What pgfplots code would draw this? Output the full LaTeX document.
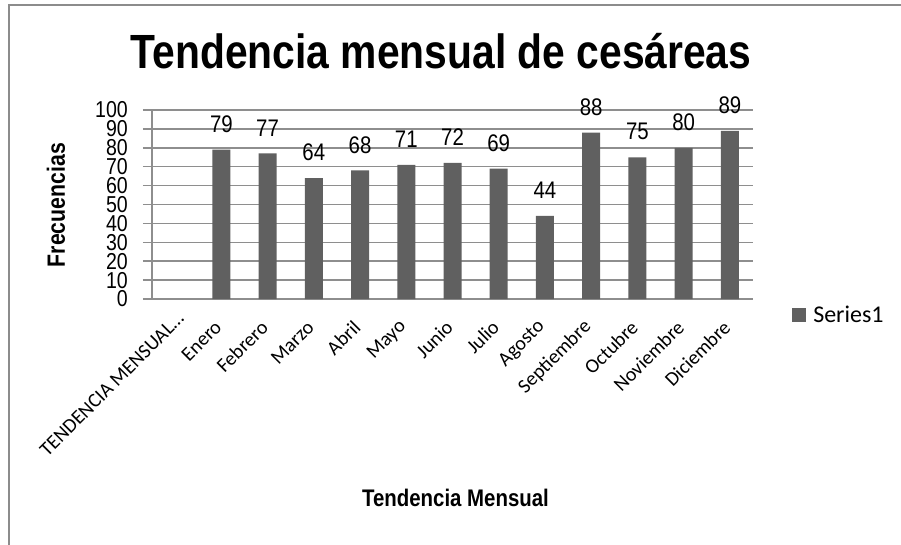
\documentclass[border=0pt]{standalone}
\usepackage{fontspec}
\usepackage{pgfplots}
\pgfplotsset{compat=1.18}
\setmainfont{Carlito}
\newfontfamily\nb[FakeStretch=0.85]{Liberation Sans}
\definecolor{barc}{HTML}{606060}
\definecolor{gridc}{HTML}{8E8E8E}
\definecolor{bordc}{HTML}{8C8C8C}
\begin{document}
\begin{tikzpicture}[x=1pt,y=1pt]
\useasboundingbox (0,0) rectangle (901,544);
\draw[bordc, line width=2pt] (9,-5) -- (9,539) -- (906,539);
\begin{axis}[
  at={(152pt,245pt)}, anchor=south west,
  scale only axis, width=601pt, height=189pt,
  xmin=-0.5, xmax=12.5, ymin=0, ymax=100,
  axis x line*=bottom, axis y line*=left,
  axis line style={gridc, line width=1.5pt, -},
  xtick={0,1,2,3,4,5,6,7,8,9,10,11,12},
  xticklabels={{TENDENCIA MENSUAL\ldots\hspace*{-12pt}},Enero,Febrero,Marzo,Abril,Mayo,Junio,Julio,Agosto,Septiembre,Octubre,Noviembre,Diciembre},
  xtick style={draw=none},
  xticklabel style={font=\fontsize{20}{20}\selectfont, inner sep=0pt, yshift=-16pt, xshift=-3pt, rotate=45, anchor=east},
  ytick={0,10,20,30,40,50,60,70,80,90,100},
  ytick style={gridc, line width=1.5pt},
  tick align=outside, major tick length=9pt,
  yticklabel style={font=\nb\fontsize{23}{23}\selectfont, inner sep=0pt, xshift=-15pt},
  /pgf/number format/assume math mode=true,
  ymajorgrids, grid style={gridc, line width=1.5pt},
  title={Tendencia mensual de cesáreas},
  title style={font=\nb\bfseries\fontsize{48}{48}\selectfont, at={(0.481,1.19)}, anchor=base, inner sep=0pt, yshift=0pt},
  ylabel={Frecuencias},
  ylabel style={font=\nb\bfseries\fontsize{25}{25}\selectfont, at={(-0.16,0.497)}, anchor=center, inner sep=0pt},
  xlabel={Tendencia Mensual},
  xlabel style={font=\nb\bfseries\fontsize{24}{24}\selectfont, at={(0.505,-1.10)}, anchor=base, inner sep=0pt},
  legend style={at={(1.065,-0.085)}, anchor=west, draw=none, fill=none, inner sep=0pt,
    font=\fontsize{24}{24}\selectfont,
    /tikz/every even column/.append style={column sep=0pt}},
  clip=false,
]
\addplot[ybar, bar width=18pt, fill=barc, draw=none,
  nodes near coords,
  every node near coord/.append style={font=\nb\fontsize{24}{24}\selectfont, black, anchor=south, inner sep=0pt, yshift=17pt},
  legend image code/.code={\fill[barc] (0pt,-7pt) rectangle (14pt,7pt); \path (19pt,0pt);}
] coordinates {
(1,79) (2,77) (3,64) (4,68) (5,71) (6,72) (7,69) (8,44) (9,88) (10,75) (11,80) (12,89)
};
\addlegendentry{Series1}
\end{axis}
\end{tikzpicture}
\end{document}
